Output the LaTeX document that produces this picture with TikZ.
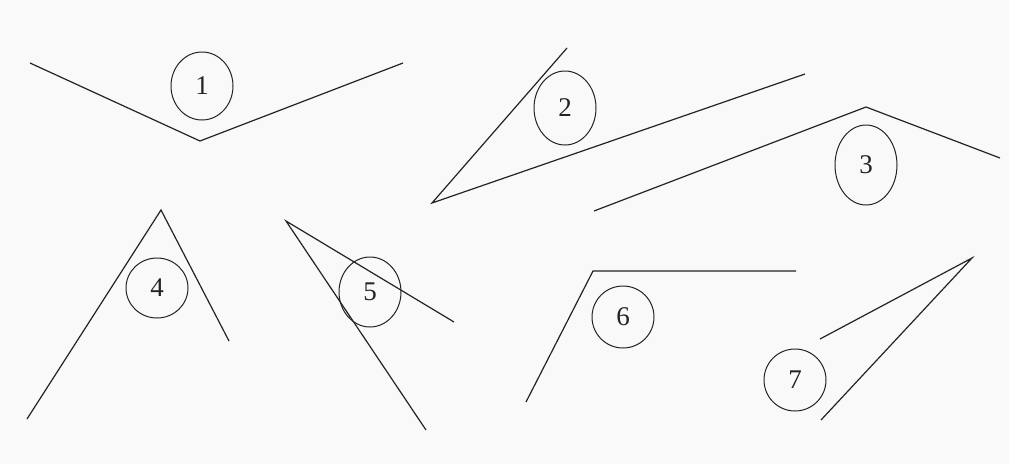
\documentclass[tikz,border=0pt]{standalone}
\usepackage{fontspec}
\setmainfont{Liberation Serif}
\usepackage{tikz}
\usetikzlibrary{shapes.geometric}
\definecolor{ink}{RGB}{35,35,35}
\definecolor{paper}{RGB}{249,249,249}

\begin{document}
\begin{tikzpicture}[x=1pt, y=-1pt, line width=1.2pt, draw=ink,
  tag/.style={ellipse, draw=ink, line width=1pt, inner sep=0pt, minimum width=62pt, font=\fontsize{27}{30}\selectfont, text=ink},
  edge/.style={draw=ink, line width=1.2pt}]
  \fill[paper] (0,0) rectangle (1009,464);
  \useasboundingbox (0,0) rectangle (1009,464);
  \node[tag, minimum height=68pt] (c1) at (202,86) {1};
  \node[tag, minimum height=74pt] (c2) at (565,108) {2};
  \node[tag, minimum height=80pt] (c3) at (866,165) {3};
  \node[tag, minimum height=60pt] (c4) at (157,288) {4};
  \node[tag, minimum height=70pt] (c5) at (370,292) {5};
  \node[tag, minimum height=62pt] (c6) at (623,317) {6};
  \node[tag, minimum height=62pt] (c7) at (795,380) {7};
  \coordinate (a1) at (30,63);  \coordinate (v1) at (200,141); \coordinate (b1) at (403,63);
  \coordinate (a2) at (567,48); \coordinate (v2) at (432,203); \coordinate (b2) at (805,74);
  \coordinate (a3) at (594,211); \coordinate (v3) at (866,107); \coordinate (b3) at (1000,158);
  \coordinate (a4) at (27,419); \coordinate (v4) at (161,210); \coordinate (b4) at (229,341);
  \coordinate (a5) at (454,322); \coordinate (v5) at (286,221); \coordinate (b5) at (426,430);
  \coordinate (a6) at (526,402); \coordinate (v6) at (593,271); \coordinate (b6) at (796,271);
  \coordinate (a7) at (820,339); \coordinate (v7) at (972,258); \coordinate (b7) at (821,420);
  \foreach \i in {1,...,7}
    \draw[edge] (a\i) -- (v\i) -- (b\i);
\end{tikzpicture}
\end{document}
